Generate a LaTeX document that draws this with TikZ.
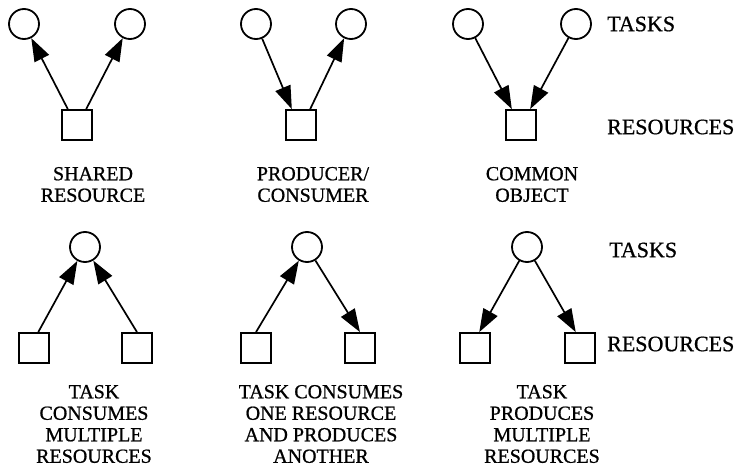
\documentclass[tikz,border=0pt]{standalone}
\usepackage{fontspec}
\setmainfont[FakeBold=0.8]{Liberation Serif}
\usetikzlibrary{arrows.meta}
\begin{document}
\begin{tikzpicture}[x=1pt,y=-1pt,
  task/.style={draw,circle,line width=1.8pt,minimum size=30pt,inner sep=0pt},
  res/.style={draw,rectangle,line width=1.8pt,minimum size=30pt,inner sep=0pt},
  arr/.style={line width=1.7pt,-{Triangle[length=23pt,width=16pt]}},
  caption/.style={align=center,inner sep=0pt,font=\fontsize{20}{21.5}\selectfont},
  side/.style={anchor=west,inner sep=0pt,font=\fontsize{22}{24}\selectfont}]
\useasboundingbox (0,0) rectangle (739,468);

% ---- top row ----
% shared resource
\node[task] (a1) at (24,24) {};
\node[task] (a2) at (130,24) {};
\node[res]  (ar) at (77,125) {};
\draw[arr] (ar.120) -- (a1);
\draw[arr] (ar.60) -- (a2);
\node[caption] (ac) at (93,184.5) {SHARED\\RESOURCE};

% producer / consumer
\node[task] (b1) at (256,24) {};
\node[task] (b2) at (351,24) {};
\node[res]  (br) at (301,125) {};
\draw[arr] (b1) -- (br.120);
\draw[arr] (br.60) -- (b2);
\node[caption] (bc) at (313,184.5) {PRODUCER/\\CONSUMER};

% common object
\node[task] (c1) at (468,24) {};
\node[task] (c2) at (576,24) {};
\node[res]  (cr) at (521,125) {};
\draw[arr] (c1) -- (cr.120);
\draw[arr] (c2) -- (cr.60);
\node[caption] (cc) at (532,184.5) {COMMON\\OBJECT};

\node[side] (t1) at (607,24) {TASKS};
\node[side] (r1) at (607,127) {RESOURCES};

% ---- bottom row ----
% task consumes multiple resources
\node[task] (d)  at (85,247) {};
\node[res]  (d1) at (34,348) {};
\node[res]  (d2) at (137,348) {};
\draw[arr] (d1.75) -- (d);
\draw[arr] (d2.north) -- (d);
\node[caption] (dc) at (94,424) {TASK\\CONSUMES\\MULTIPLE\\RESOURCES};

% task consumes one resource and produces another
\node[task] (e)  at (307,247) {};
\node[res]  (e1) at (256,348) {};
\node[res]  (e2) at (360,348) {};
\draw[arr] (e1.north) -- (e);
\draw[arr] (e) -- (e2.north);
\node[caption] (ec) at (321,424) {TASK CONSUMES\\ONE RESOURCE\\AND PRODUCES\\ANOTHER};

% task produces multiple resources
\node[task] (f)  at (527,247) {};
\node[res]  (f1) at (475,348) {};
\node[res]  (f2) at (580,348) {};
\draw[arr] (f) -- (f1.75);
\draw[arr] (f) -- (f2.105);
\node[caption] (fc) at (542,424) {TASK\\PRODUCES\\MULTIPLE\\RESOURCES};

\node[side] (t2) at (609,250) {TASKS};
\node[side] (r2) at (607,344) {RESOURCES};
\end{tikzpicture}
\end{document}
